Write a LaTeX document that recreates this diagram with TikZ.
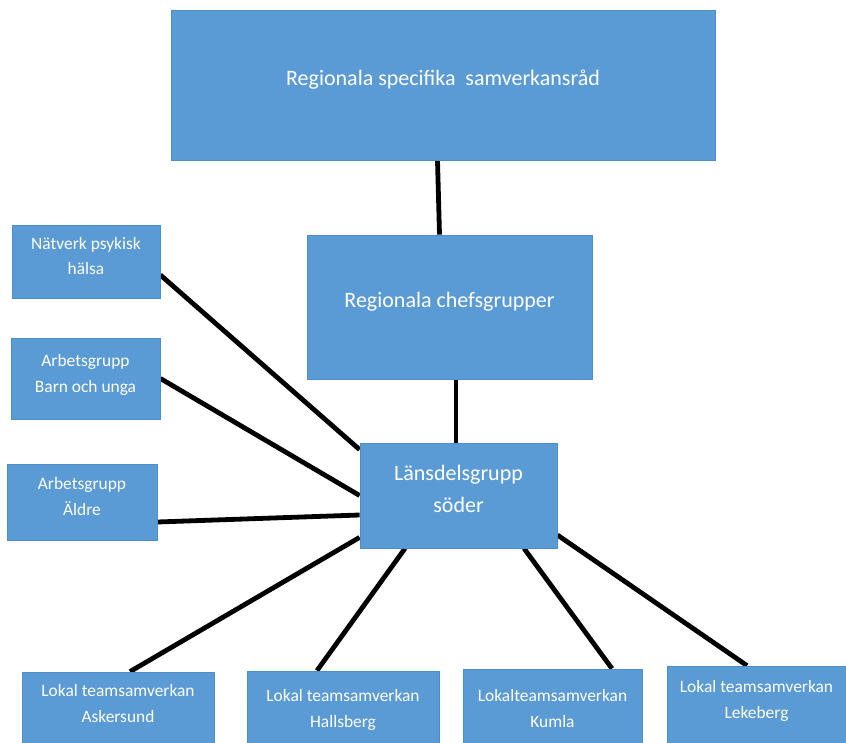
\documentclass[tikz,border=0pt]{standalone}
\usepackage{fontspec}
\setmainfont{Carlito}
\definecolor{boxblue}{HTML}{5B9BD5}
\definecolor{boxedge}{HTML}{4F8DC9}
\pgfdeclarelayer{bg}
\pgfdeclarelayer{paper}
\pgfsetlayers{paper,bg,main}
\begin{document}
\begin{tikzpicture}[x=1pt,y=-1pt,
  box/.style 2 args={draw=boxedge, line width=0.8pt, fill=boxblue, minimum width=#1, minimum height=#2, inner sep=0pt},
  bigtxt/.style={text=white, align=center, inner sep=0pt, anchor=base, font=\fontsize{22}{32}\selectfont},
  smalltxt/.style={text=white, align=center, inner sep=0pt, anchor=base, font=\fontsize{17.4}{25.5}\selectfont},
  conn/.style={draw=black, line width=4.8pt}]
\clip (0,0) rectangle (846,743);
\begin{pgfonlayer}{paper}
\fill[white] (0,0) rectangle (846,743);
\end{pgfonlayer}
% boxes
\node[box={544pt}{150pt}] (top) at (443,85) {};
\node[box={285pt}{144pt}] (chef) at (449.5,307) {};
\node[box={197pt}{105pt}] (lans) at (458.5,495.5) {};
\node[box={148pt}{73pt}] (nat) at (86,261.5) {};
\node[box={149pt}{81pt}] (barn) at (85.5,378.5) {};
\node[box={150pt}{76pt}] (aldre) at (82,502) {};
\node[box={192pt}{73pt}] (asker) at (118,708.5) {};
\node[box={192pt}{74pt}] (hall) at (343,708) {};
\node[box={179pt}{76pt}] (kumla) at (552.5,707) {};
\node[box={179pt}{79pt}] (lek) at (756.5,705.5) {};
% texts (base anchor = baseline of the last line)
\node[bigtxt] (ttop) at (443,86) {Regionala specifika~ samverkansråd};
\node[bigtxt] (tchef) at (449.5,308) {Regionala chefsgrupper};
\node[bigtxt] (tlans) at (458.5,512) {Länsdelsgrupp\\söder};
\node[smalltxt] (tnat) at (86,275) {Nätverk psykisk\\hälsa};
\node[smalltxt] (tbarn) at (85.5,392) {Arbetsgrupp\\Barn och unga};
\node[smalltxt] (taldre) at (82,515) {Arbetsgrupp\\Äldre};
\node[smalltxt] (tasker) at (118,722) {Lokal teamsamverkan\\Askersund};
\node[smalltxt] (thall) at (343,727) {Lokal teamsamverkan\\Hallsberg};
\node[smalltxt] (tkumla) at (552.5,727) {Lokalteamsamverkan\\Kumla};
\node[smalltxt] (tlek) at (756.5,718) {Lokal teamsamverkan\\Lekeberg};
% connectors
\begin{pgfonlayer}{bg}
\draw[conn] ([xshift=-5.5pt]top.south) -- ([xshift=-10pt]chef.north);
\draw[conn] ([xshift=6.5pt]chef.south) -- ([xshift=-2.5pt]lans.north);
\draw[conn] ([yshift=-13.5pt]nat.east) -- ([yshift=-7pt]lans.north west);
\draw[conn] (barn.east) -- (lans.west);
\draw[conn] ([yshift=-20pt]aldre.east) -- ([yshift=-19.5pt]lans.west);
\draw[conn] ([xshift=12pt]asker.north) -- ([yshift=11pt]lans.south west);
\draw[conn] ([xshift=-26pt]hall.north) -- ([xshift=-53.5pt]lans.south);
\draw[conn] ([xshift=59.5pt]kumla.north) -- ([xshift=65.5pt]lans.south);
\draw[conn] ([xshift=-9.5pt]lek.north) -- ([yshift=-39.5pt]lans.east);
\end{pgfonlayer}
\end{tikzpicture}
\end{document}
